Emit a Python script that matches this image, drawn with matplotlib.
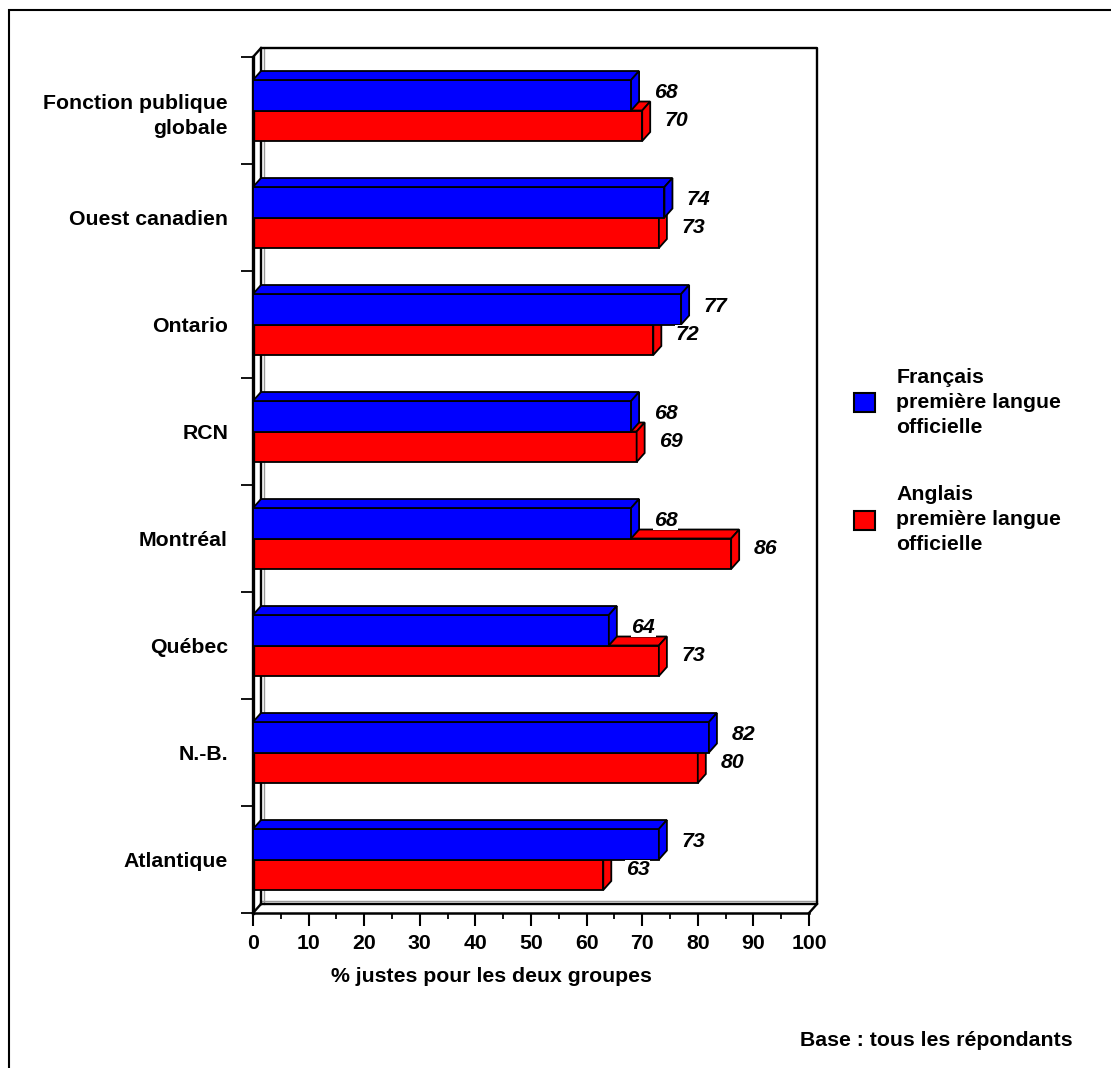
import numpy as np
import matplotlib
matplotlib.use("Agg")
import matplotlib.pyplot as plt
from matplotlib.patches import Polygon, Rectangle
from matplotlib.ticker import MultipleLocator, FixedLocator

plt.rcParams['font.family'] = ['Liberation Sans', 'DejaVu Sans']
plt.rcParams['font.weight'] = 'bold'

# data, bottom to top
categories = ["Atlantique", "N.-B.", "Québec", "Montréal", "RCN", "Ontario",
              "Ouest canadien", "Fonction publique\nglobale"]
francais = [73, 82, 64, 68, 68, 77, 74, 68]
anglais = [63, 80, 73, 86, 69, 72, 73, 70]
series_names = ["Français\npremière langue\nofficielle",
                "Anglais\npremière langue\nofficielle"]
x_ticks = [0, 10, 20, 30, 40, 50, 60, 70, 80, 90, 100]

W, H = 1111, 1068
fig = plt.figure(figsize=(W / 100, H / 100), dpi=100)
ax = fig.add_axes([253 / W, (H - 913) / H, 556 / W, 856 / H])
ax.set_xlim(0, 100)
ax.set_ylim(-0.5, 7.5)

h = 0.285      # bar thickness
dx = 1.44      # depth in x units
dy = 0.084     # depth in y units
fs = 15.3

# walls / floor
wall = dict(color='black', lw=1.7, clip_on=False, zorder=0.5)
ax.plot([dx, dx, 100 + dx, 100 + dx, dx], [-0.5 + dy, 7.5 + dy, 7.5 + dy, -0.5 + dy, -0.5 + dy], **wall)
ax.plot([0, dx], [7.5, 7.5 + dy], **wall)
ax.plot([0, dx], [-0.5, -0.5 + dy], **wall)
ax.plot([100, 100 + dx], [-0.5, -0.5 + dy], **wall)
shade = dict(color='#999999', lw=1.0, clip_on=False, zorder=0.4)
ax.plot([dx + 0.45, dx + 0.45], [-0.5 + dy, 7.5 + dy], **shade)
ax.plot([dx, 100 + dx], [-0.5 + dy + 0.025, -0.5 + dy + 0.025], **shade)


def bar3d(y0, v, color, z):
    ax.barh(y0 + h / 2, v, height=h, color=color, edgecolor='black', linewidth=1.3, zorder=z)
    top = y0 + h
    ax.add_patch(Polygon([(0, top), (dx, top + dy), (v + dx, top + dy), (v, top)],
                         closed=True, facecolor=color, edgecolor='black', linewidth=1.3, zorder=z))
    ax.add_patch(Polygon([(v, y0), (v + dx, y0 + dy), (v + dx, top + dy), (v, top)],
                         closed=True, facecolor=color, edgecolor='black', linewidth=1.3, zorder=z))


y = np.arange(len(categories))
for i in range(len(categories)):
    bar3d(y[i] - h, anglais[i], '#ff0000', 2)
for i in range(len(categories)):
    bar3d(y[i], francais[i], '#0000ff', 3)

lab = dict(fontsize=fs, fontweight='bold', fontstyle='italic', ha='left', va='center', zorder=5,
           bbox=dict(facecolor='white', edgecolor='none', pad=0.5))
for i in range(len(categories)):
    ax.text(francais[i] + dx + 2.6, y[i] + h / 2 + 0.03, str(francais[i]), **lab)
    ax.text(anglais[i] + dx + 2.6, y[i] - h / 2 + 0.045, str(anglais[i]), **lab)

# axes
for s in ['top', 'right']:
    ax.spines[s].set_visible(False)
ax.spines['left'].set_linewidth(2.4)
ax.spines['bottom'].set_linewidth(1.8)
ax.set_yticks(y)
ax.set_yticklabels(categories, fontsize=fs, fontweight='bold', linespacing=1.4)
ax.yaxis.set_minor_locator(FixedLocator(np.arange(-0.5, 8, 1)))
ax.tick_params(axis='y', which='major', length=0, pad=18)
ax.tick_params(axis='y', which='minor', length=9, width=1.3)
ax.set_xticks(x_ticks)
ax.set_xticklabels([str(t) for t in x_ticks], fontsize=fs, fontweight='bold')
ax.xaxis.set_minor_locator(MultipleLocator(5))
ax.tick_params(axis='x', which='major', length=9, width=1.5, pad=6)
ax.tick_params(axis='x', which='minor', length=4.5, width=1.3)
ax.set_xlabel("% justes pour les deux groupes", fontsize=fs, fontweight='bold')
ax.xaxis.set_label_coords(0.428, -0.0736)
ax.xaxis.label.set_va('center')

# legend
handles = [Rectangle((0, 0), 1, 1, facecolor='#0000ff', edgecolor='black', linewidth=1.5),
           Rectangle((0, 0), 1, 1, facecolor='#ff0000', edgecolor='black', linewidth=1.5)]
leg = fig.legend(handles, series_names, loc='center left', bbox_to_anchor=(854 / W, (H - 461) / H),
                 frameon=False, fontsize=fs, handlelength=1.0, handleheight=1.0, handletextpad=1.0,
                 labelspacing=2.3, borderpad=0, borderaxespad=0)
for t in leg.get_texts():
    t.set_linespacing(1.4)

fig.text(800 / W, (H - 1041) / H, "Base : tous les répondants", fontsize=fs, fontweight='bold',
         ha='left', va='center')

# outer frame
fig.add_artist(Rectangle((8.5 / W, -0.1), 1.2, (H - 10) / H + 0.1, transform=fig.transFigure,
                         fill=False, edgecolor='black', linewidth=1.5))

fig.savefig("out.png", dpi=100)
